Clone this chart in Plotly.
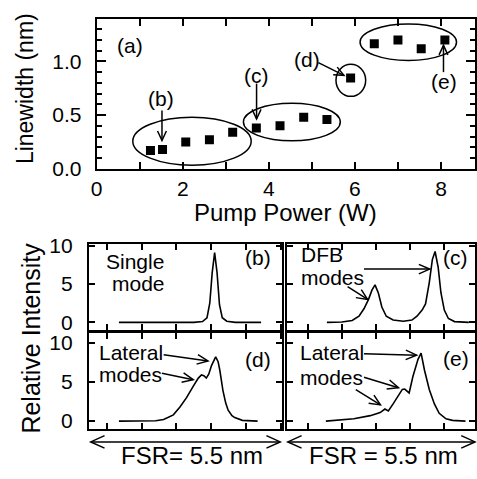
import plotly.graph_objects as go

W, H = 477, 479
FONT = "Liberation Sans, Arial, sans-serif"

# ---- data (a): linewidth vs pump power ----
pump_power = [1.25, 1.53, 2.07, 2.62, 3.16, 3.71, 4.26, 4.81, 5.35, 5.90, 6.45, 7.00, 7.54, 8.09]
linewidth = [0.17, 0.18, 0.25, 0.27, 0.34, 0.38, 0.40, 0.48, 0.46, 0.845, 1.165, 1.20, 1.12, 1.20]

# ---- spectra (relative units along FSR) ----
b_x = [0.34, 2.5, 2.75, 2.88, 2.96, 3.03, 3.10, 3.17, 3.24, 3.32, 3.45, 3.7, 4.44]
b_y = [0, 0, 0.1, 0.6, 2.5, 6.5, 9.1, 6.5, 2.3, 0.6, 0.15, 0, 0]

c_x = [0.56, 1.0, 1.3, 1.5, 1.65, 1.78, 1.88, 1.97, 2.07, 2.17, 2.3, 2.5, 2.8, 3.05, 3.2, 3.35,
       3.45, 3.56, 3.65, 3.73, 3.82, 3.9, 4.0, 4.12, 4.3, 4.72]
c_y = [0, 0.05, 0.25, 0.8, 1.8, 3.0, 4.2, 4.9, 3.8, 2.0, 0.8, 0.3, 0.15, 0.3, 0.8, 1.6,
       2.4, 5.2, 8.2, 9.25, 7.2, 3.9, 1.6, 0.5, 0.1, 0]

d_x = [0.34, 1.4, 1.63, 1.91, 2.1, 2.29, 2.49, 2.63, 2.72, 2.79, 2.86, 2.93, 3.01, 3.13, 3.2,
       3.25, 3.34, 3.42, 3.49, 3.6, 3.68, 3.9, 4.34]
d_y = [0, 0.05, 0.2, 0.8, 1.8, 3.0, 4.5, 5.5, 5.9, 5.8, 5.5, 6.0, 7.1, 8.2, 7.6,
       6.5, 3.9, 2.3, 1.4, 0.7, 0.45, 0.1, 0]

e_x = [0.53, 1.35, 1.83, 2.12, 2.26, 2.36, 2.5, 2.65, 2.77, 2.84, 2.97, 3.08, 3.23, 3.32,
       3.42, 3.56, 3.71, 3.85, 4.05, 4.24, 4.62]
e_y = [0, 0.3, 0.7, 1.1, 1.55, 1.3, 2.2, 3.25, 4.05, 4.1, 3.6, 5.7, 7.9, 8.7,
       6.5, 4.05, 2.2, 1.0, 0.3, 0.1, 0]


def px(x):
    return x / W


def py(y):
    return 1 - y / H


fig = go.Figure()

fig.add_trace(go.Scatter(x=pump_power, y=linewidth, mode="markers",
                         marker=dict(symbol="square", size=9, color="black"),
                         xaxis="x", yaxis="y", showlegend=False))
for xs, ys, n in [(b_x, b_y, 2), (c_x, c_y, 3), (d_x, d_y, 4), (e_x, e_y, 5)]:
    fig.add_trace(go.Scatter(x=xs, y=ys, mode="lines", line=dict(color="black", width=1.6),
                             xaxis=f"x{n}", yaxis=f"y{n}", showlegend=False))

axis_common = dict(showline=True, linecolor="black", linewidth=2, mirror="allticks",
                   ticks="inside", tickcolor="black", tickwidth=1.5, showgrid=False,
                   zeroline=False, tickfont=dict(family=FONT, size=21, color="black"))

layout = dict(
    width=W, height=H, margin=dict(l=0, r=0, t=0, b=0),
    paper_bgcolor="white", plot_bgcolor="white",
    font=dict(family=FONT, color="black"),
    xaxis=dict(axis_common, domain=[px(92), px(476)], range=[0, 8.79], anchor="y",
               tick0=0, dtick=2, ticklen=7,
               minor=dict(dtick=1, ticks="inside", ticklen=7, tickcolor="black", tickwidth=1.5)),
    yaxis=dict(axis_common, domain=[py(166), py(9)], range=[0, 1.4], anchor="x",
               tick0=0, dtick=0.5, tickformat=".1f", ticklen=9, ticklabelstandoff=9,
               minor=dict(dtick=0.1, ticks="inside", ticklen=5, tickcolor="black", tickwidth=1.5)),
)

bx_rng = [-0.53, 5.04]
cx_rng = [-0.6, 4.9]
top_y = [py(335), py(245)]
bot_y = [py(438.5), py(337.5)]
for n, dom_x, rng_x, dom_y, rng_y, lab in [
    (2, [px(84), px(280)], bx_rng, top_y, [-1.04, 10.2], True),
    (3, [px(285.5), px(476)], cx_rng, top_y, [-1.04, 10.2], False),
    (4, [px(84), px(280)], bx_rng, bot_y, [-1.04, 11.3], True),
    (5, [px(285.5), px(476)], cx_rng, bot_y, [-1.04, 11.3], False),
]:
    layout[f"xaxis{n}"] = dict(axis_common, domain=dom_x, range=rng_x, anchor=f"y{n}",
                               tick0=0, dtick=1, ticklen=6, showticklabels=False)
    layout[f"yaxis{n}"] = dict(axis_common, domain=dom_y, range=rng_y, anchor=f"x{n}",
                               tickvals=[0, 5, 10], ticklen=6, showticklabels=lab,
                               ticklabelstandoff=10)

fig.update_layout(**layout)

shapes = []
# ellipses around groups in (a)
for x0, x1, y0, y1 in [(0.84, 3.59, 0.033, 0.48), (3.41, 5.66, 0.26, 0.61),
                       (5.56, 6.25, 0.675, 0.974), (6.12, 8.36, 1.01, 1.35)]:
    shapes.append(dict(type="circle", xref="x", yref="y", x0=x0, x1=x1, y0=y0, y1=y1,
                       line=dict(color="black", width=1.5)))


def arrow(x0, y0, x1, y1, head=10, half=4.5, both=False, w=1.5):
    dx, dy = x1 - x0, y1 - y0
    L = (dx * dx + dy * dy) ** 0.5
    ux, uy = dx / L, dy / L
    nx, ny = -uy, ux
    shapes.append(dict(type="line", xref="paper", yref="paper",
                       x0=px(x0), y0=py(y0), x1=px(x1), y1=py(y1),
                       line=dict(color="black", width=w)))

    def vhead(tx, ty, sx, sy):
        a = (tx - sx * head + nx * half, ty - sy * head + ny * half)
        b = (tx - sx * head - nx * half, ty - sy * head - ny * half)
        path = (f"M {px(a[0])},{py(a[1])} L {px(tx)},{py(ty)} L {px(b[0])},{py(b[1])}")
        shapes.append(dict(type="path", xref="paper", yref="paper", path=path,
                           line=dict(color="black", width=w)))

    vhead(x1, y1, ux, uy)
    if both:
        vhead(x0, y0, -ux, -uy)


# arrows in (a)
arrow(158.3, 105, 158.3, 136.5)
arrow(254.3, 77, 254.3, 114)
arrow(317, 55, 343, 68.3)
arrow(444, 65, 444, 37)
# arrows in (c)
arrow(363.3, 271, 430, 271, head=11, half=5)
arrow(346.7, 289.3, 367, 302.7, head=11, half=5)
# arrows in (d)
arrow(160, 360.5, 205, 367, head=11, half=5)
arrow(158.3, 380, 190, 386.7, head=11, half=5)
# arrows in (e)
arrow(363.3, 359.5, 416.7, 361, head=11, half=5)
arrow(363.3, 384, 398.3, 395, head=11, half=5)
arrow(355, 397, 380, 413, head=11, half=5)
# FSR arrows
arrow(86, 451.7, 278.3, 451.7, head=14, half=6.5, both=True)
arrow(286, 451.7, 476, 451.7, head=14, half=6.5, both=True)

fig.update_layout(shapes=shapes)

ann = []


def text(s, x, y, size=21, xanchor="center", angle=0):
    ann.append(dict(text=s, x=px(x), y=py(y), xref="paper", yref="paper",
                    xanchor=xanchor, yanchor="middle", showarrow=False, textangle=angle,
                    font=dict(family=FONT, size=size, color="black")))


text("(a)", 125.8, 37)
text("(b)", 157.5, 93)
text("(c)", 254.7, 68)
text("(d)", 305.8, 52)
text("(e)", 444.2, 75)
text("Pump Power (W)", 284, 212, size=24)
text("Linewidth (nm)", 20, 82, size=23, angle=-90)
text("Relative Intensity", 25, 343, size=25, angle=-90)
text("Single", 131, 263)
text("mode", 134, 286)
text("(b)", 256, 259)
text("DFB", 297, 256, xanchor="left")
text("modes", 297, 279.5, xanchor="left")
text("(c)", 456, 259)
text("Lateral", 92, 358, xanchor="left")
text("modes", 92, 381.5, xanchor="left")
text("(d)", 256, 366)
text("Lateral", 296.5, 358, xanchor="left")
text("modes", 296.5, 384, xanchor="left")
text("(e)", 456.5, 365)
text("FSR= 5.5 nm", 189, 466, size=24)
text("FSR = 5.5 nm", 383.3, 466, size=24)

fig.update_layout(annotations=ann)

fig.write_html("out.html", config={"displayModeBar": False},
               post_script="document.body.style.margin='0px';document.body.style.overflow='hidden';")
